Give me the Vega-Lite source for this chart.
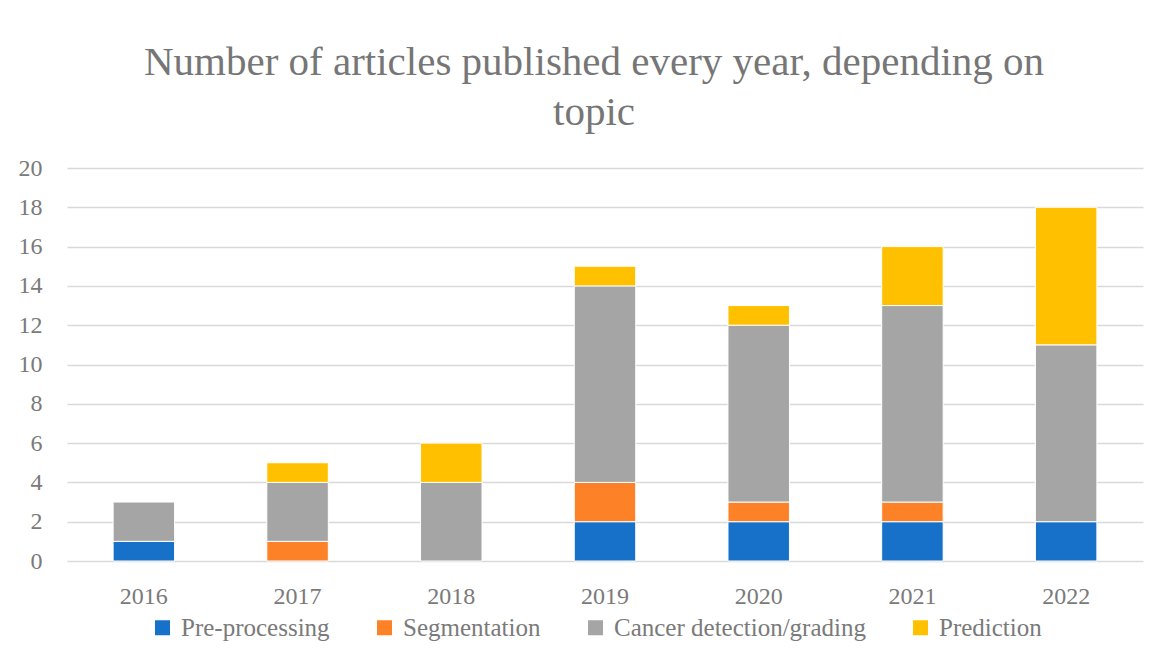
{
  "$schema": "https://vega.github.io/schema/vega-lite/v6.json",
  "autosize": {"type": "none"},
  "padding": {"left": 67, "top": 168, "right": 22, "bottom": 97},
  "width": 1076,
  "height": 393,
  "background": "white",
  "title": {
    "text": ["Number of articles published every year, depending on", "topic"],
    "font": "Liberation Serif",
    "fontSize": 41,
    "fontWeight": "normal",
    "color": "#767676",
    "lineHeight": 50,
    "anchor": "middle",
    "dx": -11,
    "offset": 22
  },
  "data": {
    "values": [
      {"year": "2016", "topic": "Pre-processing", "count": 1},
      {"year": "2016", "topic": "Cancer detection/grading", "count": 2},
      {"year": "2017", "topic": "Segmentation", "count": 1},
      {"year": "2017", "topic": "Cancer detection/grading", "count": 3},
      {"year": "2017", "topic": "Prediction", "count": 1},
      {"year": "2018", "topic": "Cancer detection/grading", "count": 4},
      {"year": "2018", "topic": "Prediction", "count": 2},
      {"year": "2019", "topic": "Pre-processing", "count": 2},
      {"year": "2019", "topic": "Segmentation", "count": 2},
      {"year": "2019", "topic": "Cancer detection/grading", "count": 10},
      {"year": "2019", "topic": "Prediction", "count": 1},
      {"year": "2020", "topic": "Pre-processing", "count": 2},
      {"year": "2020", "topic": "Segmentation", "count": 1},
      {"year": "2020", "topic": "Cancer detection/grading", "count": 9},
      {"year": "2020", "topic": "Prediction", "count": 1},
      {"year": "2021", "topic": "Pre-processing", "count": 2},
      {"year": "2021", "topic": "Segmentation", "count": 1},
      {"year": "2021", "topic": "Cancer detection/grading", "count": 10},
      {"year": "2021", "topic": "Prediction", "count": 3},
      {"year": "2022", "topic": "Pre-processing", "count": 2},
      {"year": "2022", "topic": "Cancer detection/grading", "count": 9},
      {"year": "2022", "topic": "Prediction", "count": 7}
    ]
  },
  "transform": [
    {"calculate": "indexof(['Pre-processing','Segmentation','Cancer detection/grading','Prediction'], datum.topic)", "as": "stackOrder"}
  ],
  "mark": {"type": "bar", "stroke": "white", "strokeWidth": 1},
  "encoding": {
    "x": {
      "field": "year",
      "type": "nominal",
      "scale": {"paddingInner": 0.6, "paddingOuter": 0.3},
      "axis": {
        "title": null,
        "labelAngle": 0,
        "labelFont": "Liberation Serif",
        "labelFontSize": 24,
        "labelColor": "#7a7a7a",
        "labelPadding": 23,
        "ticks": false,
        "domain": false
      }
    },
    "y": {
      "field": "count",
      "type": "quantitative",
      "aggregate": "sum",
      "stack": "zero",
      "scale": {"domain": [0, 20]},
      "axis": {
        "title": null,
        "values": [0, 2, 4, 6, 8, 10, 12, 14, 16, 18, 20],
        "labelFont": "Liberation Serif",
        "labelFontSize": 24,
        "labelColor": "#7a7a7a",
        "labelPadding": 25,
        "ticks": false,
        "domain": false,
        "gridColor": "#d9d9d9",
        "gridWidth": 1.5
      }
    },
    "order": {"field": "stackOrder", "type": "quantitative", "sort": "ascending"},
    "color": {
      "field": "topic",
      "type": "nominal",
      "sort": ["Pre-processing", "Segmentation", "Cancer detection/grading", "Prediction"],
      "scale": {
        "domain": ["Pre-processing", "Segmentation", "Cancer detection/grading", "Prediction"],
        "range": ["#1871C8", "#FD8127", "#A5A5A5", "#FFC000"]
      },
      "legend": {
        "title": null,
        "orient": "none",
        "legendX": 83,
        "legendY": 447,
        "direction": "horizontal",
        "symbolType": "square",
        "symbolSize": 225,
        "symbolStrokeWidth": 0,
        "symbolOpacity": 1,
        "labelFont": "Liberation Serif",
        "labelFontSize": 25,
        "labelColor": "#7a7a7a",
        "labelOffset": 6,
        "labelLimit": 0,
        "columnPadding": 42
      }
    }
  },
  "config": {
    "view": {"stroke": null}
  }
}
